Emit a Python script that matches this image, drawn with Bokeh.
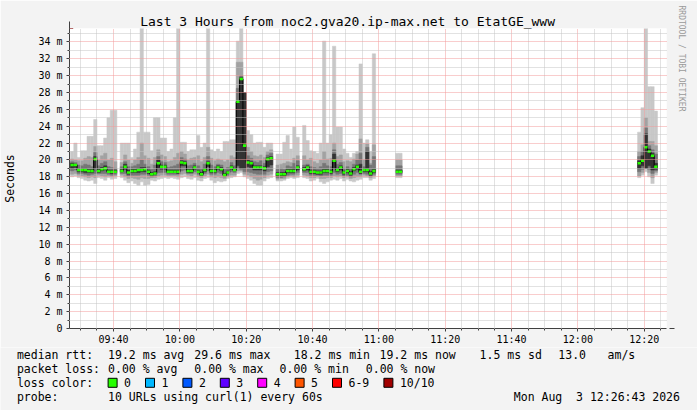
import math
from datetime import datetime, timedelta
from bokeh.plotting import figure
from bokeh.layouts import column
from bokeh.core.properties import value
from bokeh.models import (ColumnDataSource, FixedTicker, DatetimeTickFormatter, Title,
                          Arrow, NormalHead, Range1d)
from bokeh.embed import file_html
from bokeh.resources import INLINE

# ------------------------------------------------------------------ data
TITLE = "Last 3 Hours from noc2.gva20.ip-max.net to EtatGE_www"
WINDOW_START = datetime(2026, 8, 3, 9, 26, 43)
WINDOW_END = datetime(2026, 8, 3, 12, 26, 43)
FIRST_STEP = datetime(2026, 8, 3, 9, 27, 0)
STEP = timedelta(minutes=1)
Y_MAX = 35.6  # ms

# minute index (from 09:27) of every step that has data
step_no = (list(range(0, 14)) + list(range(15, 61)) + list(range(62, 69)) +
           list(range(70, 92)) + [98, 99] + list(range(171, 177)))

# median rtt (ms)
median = [
    19.4, 19.4, 18.8, 18.8, 18.8, 18.7, 18.7, 20.1, 18.7, 18.9, 19.0, 18.6, 18.6, 18.6,
    18.7, 19.2, 18.5, 18.7, 18.7, 18.8, 18.8, 18.9, 18.6, 18.3, 18.4, 19.6, 19.2, 19.2,
    18.6, 18.6, 18.6, 18.6, 19.7, 19.6, 18.7, 18.7, 19.1, 18.6, 18.3, 18.8, 19.6, 18.7,
    18.7, 19.1, 18.9, 18.2, 18.5, 19.1, 18.8, 26.9, 29.6, 21.7, 19.7, 19.6, 19.1, 19.1,
    19.1, 19.0, 20.1, 20.2,
    18.3, 18.3, 18.3, 18.7, 18.7, 18.7, 19.1,
    18.9, 19.1, 18.6, 18.6, 18.5, 18.5, 18.7, 18.7, 18.6, 19.9, 18.8, 19.1, 18.5, 18.7,
    18.4, 18.9, 19.2, 18.6, 18.8, 18.8, 18.4, 18.7,
    18.6, 18.6,
    19.6, 19.9, 21.5, 21.0, 20.5, 19.2,
]

# smoke layer 1 (fastest .. slowest URL)
smoke1_lo = [
    18.0, 18.1, 17.9, 17.8, 17.6, 17.5, 17.6, 17.2, 17.9, 17.8, 17.6, 17.9, 17.7, 17.8,
    17.9, 17.6, 17.3, 17.5, 17.2, 17.0, 17.4, 17.0, 17.1, 17.6, 17.5, 17.7, 17.8, 17.9,
    17.8, 17.9, 17.8, 17.7, 17.9, 18.0, 17.8, 17.7, 17.9, 17.6, 17.5, 17.8, 17.9, 17.6,
    17.3, 17.5, 17.4, 17.5, 17.8, 17.9, 18.0, 18.4, 18.5, 18.0, 17.8, 17.6, 17.2, 17.0,
    17.0, 17.5, 17.8, 17.9,
    17.5, 17.5, 17.6, 17.8, 17.9, 17.8, 17.9,
    17.9, 17.8, 17.5, 17.6, 17.8, 17.4, 17.2, 17.4, 17.6, 17.7, 17.6, 17.8, 17.5, 17.7,
    17.5, 17.4, 17.6, 17.7, 17.9, 17.9, 17.6, 17.8,
    17.9, 17.9,
    17.9, 18.2, 18.6, 18.0, 17.2, 18.2,
]
smoke1_hi = [
    21.0, 22.0, 20.3, 21.1, 21.1, 22.8, 22.8, 24.8, 21.7, 21.7, 22.6, 25.0, 25.9, 25.9,
    22.0, 22.0, 22.0, 20.3, 21.3, 23.3, 36.0, 23.3, 23.3, 21.1, 25.0, 25.0, 22.6, 22.6,
    21.0, 21.3, 25.0, 36.0, 22.1, 22.1, 21.0, 21.2, 21.2, 22.9, 21.5, 22.0, 36.0, 21.2,
    21.0, 21.3, 21.0, 22.2, 22.2, 22.4, 22.4, 34.1, 36.0, 28.0, 23.5, 23.0, 22.0, 22.1,
    22.1, 21.5, 22.0, 22.0,
    20.7, 20.7, 22.1, 22.9, 21.3, 23.9, 22.7,
    24.1, 22.3, 21.1, 21.0, 20.8, 22.0, 34.1, 22.0, 23.0, 33.5, 23.9, 23.9, 21.3, 20.8,
    20.3, 20.8, 21.0, 31.4, 22.0, 22.4, 21.0, 32.6,
    20.8, 20.8,
    23.3, 26.2, 36.0, 28.7, 28.7, 25.8,
]
# smoke layer 2
smoke2_lo = [
    18.3, 18.4, 18.2, 18.1, 18.0, 17.9, 18.0, 17.9, 18.2, 18.1, 18.0, 18.1, 18.0, 18.1,
    18.2, 18.0, 17.8, 17.9, 17.8, 17.7, 17.9, 17.8, 17.8, 17.9, 17.9, 18.1, 18.2, 18.2,
    18.1, 18.1, 18.1, 18.0, 18.3, 18.4, 18.2, 18.1, 18.3, 18.0, 17.9, 18.1, 18.3, 18.0,
    17.9, 18.0, 17.9, 17.8, 18.0, 18.2, 18.2, 18.7, 18.7, 18.3, 18.2, 18.0, 17.8, 17.6,
    17.7, 17.9, 18.2, 18.3,
    17.7, 17.8, 17.8, 18.0, 18.1, 18.0, 18.2,
    18.2, 18.1, 17.9, 17.9, 18.0, 17.8, 17.8, 17.9, 17.9, 18.1, 18.0, 18.1, 17.9, 18.0,
    17.8, 17.9, 18.0, 18.0, 18.2, 18.1, 17.9, 18.1,
    18.1, 18.1,
    18.1, 18.5, 19.0, 18.5, 17.9, 18.5,
]
smoke2_hi = [
    20.1, 20.0, 19.9, 19.9, 20.2, 20.4, 20.3, 21.6, 20.0, 20.5, 20.8, 20.0, 20.2, 19.8,
    19.7, 20.6, 20.0, 19.6, 20.0, 20.3, 22.0, 20.5, 20.2, 19.5, 20.3, 21.2, 20.6, 20.4,
    19.8, 19.9, 20.3, 20.8, 21.0, 20.7, 20.0, 20.2, 20.3, 20.5, 19.8, 20.3, 21.5, 20.2,
    19.9, 20.1, 20.0, 19.8, 20.0, 20.5, 20.3, 31.6, 31.6, 28.0, 21.5, 21.0, 20.5, 20.4,
    20.6, 20.3, 21.0, 21.2,
    19.4, 19.5, 19.6, 19.8, 19.7, 20.2, 20.5,
    20.5, 20.0, 20.2, 19.8, 19.6, 20.0, 21.0, 20.1, 20.2, 22.0, 20.4, 20.6, 19.8, 19.9,
    19.8, 20.1, 20.7, 22.5, 20.0, 21.9, 19.6, 21.8,
    20.0, 20.0,
    21.0, 21.8, 25.0, 22.2, 22.2, 21.7,
]
# smoke layer 3
smoke3_lo = [
    18.7, 18.8, 18.4, 18.4, 18.3, 18.2, 18.3, 18.4, 18.4, 18.4, 18.4, 18.3, 18.2, 18.3,
    18.4, 18.4, 18.1, 18.2, 18.2, 18.2, 18.3, 18.3, 18.2, 18.0, 18.1, 18.5, 18.5, 18.5,
    18.3, 18.3, 18.3, 18.3, 18.7, 18.8, 18.4, 18.4, 18.6, 18.3, 18.1, 18.4, 18.7, 18.3,
    18.3, 18.5, 18.4, 18.0, 18.2, 18.6, 18.5, 19.0, 18.9, 18.6, 18.6, 18.5, 18.4, 18.3,
    18.3, 18.3, 18.6, 18.7,
    17.9, 17.9, 18.0, 18.2, 18.3, 18.3, 18.5,
    18.5, 18.5, 18.2, 18.2, 18.2, 18.1, 18.2, 18.2, 18.2, 18.5, 18.3, 18.4, 18.1, 18.2,
    18.0, 18.3, 18.5, 18.3, 18.4, 18.3, 18.1, 18.3,
    18.3, 18.3,
    18.6, 18.9, 19.4, 18.9, 18.4, 18.7,
]
smoke3_hi = [
    19.8, 19.7, 19.4, 19.3, 19.5, 19.4, 19.2, 20.9, 19.3, 19.6, 19.8, 19.2, 19.1, 19.0,
    19.2, 19.8, 19.2, 19.2, 19.3, 19.5, 20.0, 19.5, 19.2, 18.9, 19.4, 20.4, 19.8, 19.7,
    19.1, 19.2, 19.3, 19.5, 20.3, 20.1, 19.3, 19.4, 19.6, 19.3, 19.0, 19.5, 20.4, 19.4,
    19.2, 19.5, 19.4, 18.9, 19.1, 19.7, 19.3, 28.5, 30.0, 28.0, 20.5, 20.2, 19.8, 19.7,
    19.9, 19.6, 20.6, 20.8,
    18.9, 19.0, 18.9, 19.3, 19.2, 19.6, 19.9,
    19.4, 19.5, 19.2, 19.1, 19.0, 19.2, 19.6, 19.3, 19.2, 21.2, 19.5, 19.7, 19.0, 19.2,
    19.0, 19.5, 20.0, 20.8, 19.2, 21.5, 19.4, 20.4,
    19.3, 19.3,
    20.4, 21.0, 23.8, 21.7, 21.2, 20.7,
]
# smoke layer 4 (the middle URLs)
smoke4_lo = [
    19.0, 19.1, 18.6, 18.6, 18.5, 18.5, 18.5, 19.0, 18.5, 18.7, 18.8, 18.5, 18.4, 18.5,
    18.6, 18.9, 18.3, 18.5, 18.5, 18.5, 18.6, 18.6, 18.4, 18.2, 18.3, 19.0, 18.9, 18.9,
    18.5, 18.5, 18.5, 18.4, 19.3, 19.3, 18.5, 18.5, 18.9, 18.5, 18.2, 18.6, 19.2, 18.5,
    18.5, 18.9, 18.7, 18.1, 18.4, 18.9, 18.7, 19.3, 19.0, 19.0, 19.2, 19.1, 18.8, 18.8,
    18.8, 18.7, 19.2, 19.4,
    18.1, 18.1, 18.1, 18.5, 18.5, 18.5, 18.8,
    18.7, 18.8, 18.4, 18.4, 18.3, 18.3, 18.5, 18.5, 18.4, 19.0, 18.6, 18.8, 18.3, 18.5,
    18.2, 18.7, 18.9, 18.4, 18.6, 18.6, 18.2, 18.5,
    18.5, 18.5,
    19.0, 19.3, 19.0, 19.3, 18.8, 18.9,
]
smoke4_hi = [
    19.6, 19.5, 19.0, 19.0, 19.0, 18.9, 18.9, 20.4, 18.9, 19.1, 19.3, 18.8, 18.8, 18.8,
    18.9, 19.5, 18.8, 18.9, 18.9, 19.0, 19.1, 19.1, 18.8, 18.5, 18.6, 20.0, 19.4, 19.4,
    18.8, 18.8, 18.8, 18.8, 19.9, 19.8, 18.9, 18.9, 19.3, 18.8, 18.5, 19.0, 19.8, 18.9,
    18.9, 19.3, 19.1, 18.4, 18.7, 19.3, 19.0, 27.0, 29.8, 28.0, 20.0, 19.8, 19.3, 19.3,
    19.3, 19.2, 20.3, 20.4,
    18.5, 18.5, 18.5, 18.9, 18.9, 19.0, 19.3,
    19.1, 19.3, 18.8, 18.8, 18.7, 18.7, 18.9, 18.9, 18.8, 20.7, 19.0, 19.3, 18.7, 18.9,
    18.6, 19.1, 19.4, 19.5, 19.0, 21.0, 18.6, 18.9,
    18.8, 18.8,
    19.9, 20.5, 23.1, 21.3, 20.8, 19.6,
]

y_ticks = list(range(0, 35, 2))
y_tick_labels = ["0"] + ["%d m" % v for v in y_ticks[1:]]
y_minor = list(range(1, 36, 2))

rtt_legend = ["19.2 ms avg", "29.6 ms max", "18.2 ms min", "19.2 ms now", "1.5 ms sd", "13.0", "am/s"]
loss_legend = ["0.00 % avg", "0.00 % max", "0.00 % min", "0.00 % now"]
loss_labels = ["0", "1", "2", "3", "4", "5", "6-9", "10/10"]
loss_colors = ["#26ff00", "#00b8ff", "#0059ff", "#5e00ff", "#ff00ff", "#ff5500", "#ff0000", "#a10000"]
probe_text = "10 URLs using curl(1) every 60s"
stamp_parts = ["Mon Aug", "3 12:26:43 2026"]   # "Mon Aug  3 12:26:43 2026"

# ------------------------------------------------------------------ helpers
EPOCH = datetime(1970, 1, 1)


def to_ms(dt):
    return (dt - EPOCH).total_seconds() * 1000.0


for arr in (median, smoke1_lo, smoke1_hi, smoke2_lo, smoke2_hi, smoke3_lo, smoke3_hi, smoke4_lo, smoke4_hi):
    assert len(arr) == len(step_no), len(arr)

left = [to_ms(FIRST_STEP + n * STEP) for n in step_no]
right = [to_ms(FIRST_STEP + (n + 1) * STEP) for n in step_no]

MONO = "DejaVu Sans Mono"
BG = "#f3f3f3"

# ------------------------------------------------------------------ main figure
p = figure(width=697, height=347, x_axis_type="datetime", output_backend="svg",
           toolbar_location=None, title=TITLE,
           x_range=Range1d(to_ms(WINDOW_START), to_ms(WINDOW_END)),
           y_range=Range1d(0, Y_MAX),
           min_border_left=66, min_border_right=31, min_border_top=28, min_border_bottom=19)
p.background_fill_color = "#ffffff"
p.border_fill_color = BG
p.outline_line_color = None

p.title.text_font = MONO
p.title.text_font_size = "13px"
p.title.text_font_style = "normal"
p.title.text_color = "#000000"
p.title.align = "left"
p.title.offset = 70.7
p.title.standoff = 0

p.add_layout(Title(text="RRDTOOL / TOBI OETIKER", align="left", offset=-23, standoff=20,
                   text_font=MONO, text_font_size="8px", text_font_style="normal",
                   text_color="#9a9a9a"), "right")

# smoke
for lo, hi, col in ((smoke1_lo, smoke1_hi, "#c8c8c8"), (smoke2_lo, smoke2_hi, "#a2a2a2"),
                    (smoke3_lo, smoke3_hi, "#767676"), (smoke4_lo, smoke4_hi, "#333333")):
    src = ColumnDataSource(dict(left=left, right=right, bottom=lo, top=hi))
    p.quad(left="left", right="right", bottom="bottom", top="top", source=src,
           fill_color=col, line_color=col, line_width=0.5)

# median: thin black step line + green (0 loss) marks
seg = dict(x0=[], y0=[], x1=[], y1=[])
for k in range(len(step_no)):
    seg["x0"].append(left[k]); seg["y0"].append(median[k])
    seg["x1"].append(right[k]); seg["y1"].append(median[k])
    if k + 1 < len(step_no) and step_no[k + 1] == step_no[k] + 1:
        seg["x0"].append(right[k]); seg["y0"].append(median[k])
        seg["x1"].append(right[k]); seg["y1"].append(median[k + 1])
p.segment(x0="x0", y0="y0", x1="x1", y1="y1", source=ColumnDataSource(seg),
          line_color="#000000", line_width=1)

half = 0.15
msrc = ColumnDataSource(dict(left=left, right=right,
                             bottom=[m - half for m in median], top=[m + half for m in median]))
p.quad(left="left", right="right", bottom="bottom", top="top", source=msrc,
       fill_color=loss_colors[0], line_color=None)

# axes / ticks
x_major, x_minor = [], []
t = datetime(2026, 8, 3, 9, 30)
while t <= WINDOW_END:
    if t.minute % 20 == 0:
        x_major.append(to_ms(t))
    else:
        x_minor.append(to_ms(t))
    t += timedelta(minutes=5)
xt = FixedTicker(ticks=x_major, minor_ticks=x_minor)
yt = FixedTicker(ticks=y_ticks, minor_ticks=y_minor)
p.xaxis.ticker = xt
p.xgrid.ticker = xt
p.yaxis.ticker = yt
p.ygrid.ticker = yt
p.xaxis.formatter = DatetimeTickFormatter(minutes="%H:%M", hourmin="%H:%M", hours="%H:%M",
                                          minsec="%H:%M", seconds="%H:%M")
p.yaxis.major_label_overrides = {v: s for v, s in zip(y_ticks, y_tick_labels)}

for ax in (p.xaxis[0], p.yaxis[0]):
    ax.axis_line_color = "#404040"
    ax.major_tick_line_color = "#404040"
    ax.minor_tick_line_color = "#404040"
    ax.major_tick_in = 0
    ax.major_tick_out = 3
    ax.minor_tick_in = 0
    ax.minor_tick_out = 2
    ax.major_label_text_font = MONO
    ax.major_label_text_font_size = "10px"
    ax.major_label_text_color = "#000000"
p.yaxis.major_label_standoff = 4
p.xaxis.major_label_standoff = 2
p.yaxis.axis_label = "Seconds"
p.yaxis.axis_label_text_font = MONO
p.yaxis.axis_label_text_font_size = "11.5px"
p.yaxis.axis_label_text_font_style = "normal"
p.yaxis.axis_label_text_color = "#000000"
p.yaxis.axis_label_standoff = 18

for g in (p.xgrid[0], p.ygrid[0]):
    g.grid_line_color = "#f29a9a"
    g.grid_line_dash = "1 1"
    g.grid_line_width = 1
    g.minor_grid_line_color = "#c4c4c4"
    g.minor_grid_line_dash = "1 1"
    g.minor_grid_line_width = 1
    g.level = "overlay"

# axis arrows
head_col = "#8b1a1a"
p.add_layout(Arrow(end=NormalHead(size=7, fill_color=head_col, line_color=head_col),
                   x_start=0, y_start=299, x_end=0, y_end=307,
                   start_units="screen", end_units="screen", line_color="#404040", line_width=1))
p.add_layout(Arrow(end=NormalHead(size=6, fill_color=head_col, line_color=head_col),
                   x_start=600, y_start=0, x_end=605, y_end=0,
                   start_units="screen", end_units="screen", line_color="#404040", line_width=1))

# ------------------------------------------------------------------ legend strip (page pixel space)
q = figure(width=697, height=63, output_backend="svg", toolbar_location=None, title=None,
           x_range=Range1d(0, 697), y_range=Range1d(410, 347),
           x_axis_location=None, y_axis_location=None,
           min_border_left=0, min_border_right=0, min_border_top=0, min_border_bottom=0)
q.grid.visible = False
q.outline_line_color = None
q.background_fill_color = BG
q.border_fill_color = BG
for fig in (p, q):
    if "frame_align" in fig.properties():
        fig.frame_align = False

row_y = [354.3, 368.3, 382.3, 396.7]
tx, ty, tt = [], [], []


def put(xp, yp, s):
    tx.append(xp); ty.append(yp); tt.append(s)


put(16.4, row_y[0], "median rtt:")
for s, xp in zip(rtt_legend, [107.6, 193.8, 293.3, 379.1, 479.1, 557.8, 607.1]):
    put(xp, row_y[0], s)
put(16.4, row_y[1], "packet loss:")
for s, xp in zip(loss_legend, [107.6, 193.8, 279.1, 365.3]):
    put(xp, row_y[1], s)
put(16.4, row_y[2], "loss color:")
bl, br = [], []
cx = 107.6
for lab in loss_labels:
    bl.append(cx); br.append(cx + 9)
    put(cx + 16, row_y[2], lab)
    cx += 16 + 7 * len(lab) + 14.4
put(16.4, row_y[3], "probe:")
put(107.6, row_y[3], probe_text)
put(513.3, row_y[3], stamp_parts[0])
put(575.6, row_y[3], stamp_parts[1])

q.quad(left=bl, right=br, top=[row_y[2] - 4.5] * len(bl), bottom=[row_y[2] + 4.5] * len(bl),
       fill_color=loss_colors, line_color="#000000", line_width=1)
q.text(x=tx, y=ty, text=tt, text_font=value(MONO), text_font_size=value("11.5px"),
       text_color="#000000", text_align="left", text_baseline="middle")

open("out.html", "w").write(file_html(column(p, q), INLINE))
